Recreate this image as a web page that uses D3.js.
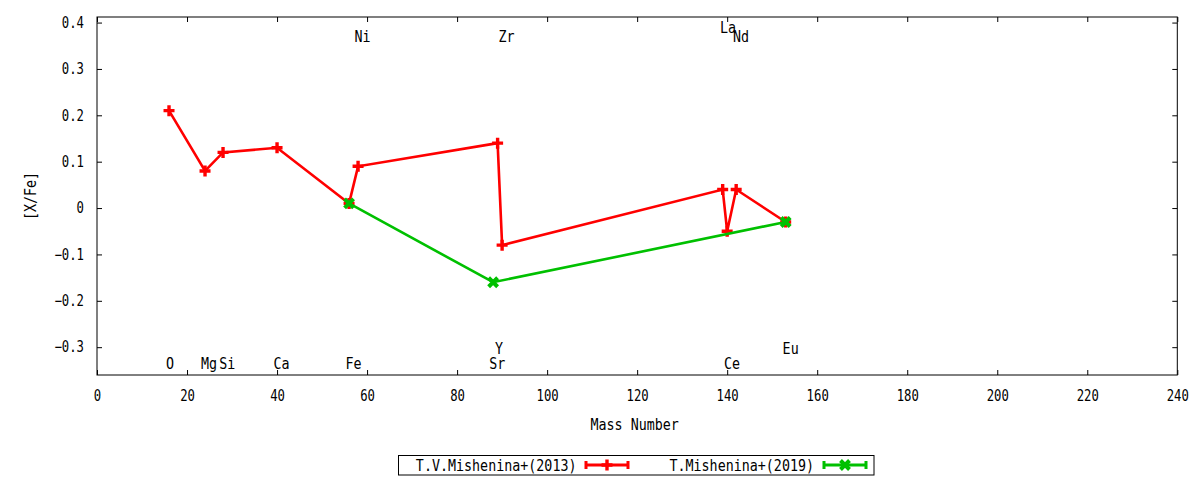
<!DOCTYPE html>
<html><head><meta charset="utf-8">
<script src="https://cdn.jsdelivr.net/npm/d3@7"></script>
<style>
html,body{margin:0;padding:0;background:#fff;}
svg{display:block;}
text{font-family:"DejaVu Sans Mono","Liberation Mono",monospace;fill:#000;}
</style></head>
<body><svg id="c" width="1200" height="480"></svg>
<script>
// ---- data ----
const series2013Name = "T.V.Mishenina+(2013)";
const series2019Name = "T.Mishenina+(2019)";
const mass2013 = [16, 24, 28, 40, 56, 58, 89, 90, 139, 140, 142, 153];
const xfe2013  = [0.21, 0.08, 0.12, 0.13, 0.01, 0.09, 0.14, -0.08, 0.04, -0.05, 0.04, -0.03];
const mass2019 = [56, 88, 153];
const xfe2019  = [0.01, -0.16, -0.03];
const elementNames = ["O", "Mg", "Si", "Ca", "Fe", "Sr", "Y", "Ce", "Eu", "Ni", "Zr", "La", "Nd"];
const elementX     = [16.2, 24.9, 28.95, 41, 57, 88.9, 89.3, 141.1, 154.1, 59, 91, 140.2, 143.1];
const elementY     = [-0.335, -0.335, -0.335, -0.335, -0.335, -0.335, -0.303, -0.335, -0.303, 0.369, 0.369, 0.39, 0.369];
const xTicks = [0, 20, 40, 60, 80, 100, 120, 140, 160, 180, 200, 220, 240];
const yTicks = [-0.3, -0.2, -0.1, 0, 0.1, 0.2, 0.3, 0.4];
const xTitle = "Mass Number";
const yTitle = "[X/Fe]";

// ---- layout ----
const svg = d3.select("#c");
const L = 97, R = 1177.3, T = 17, B = 375;
const x = d3.scaleLinear().domain([0, 240]).range([L, R]);
const y = d3.scaleLinear().domain([-0.36, 0.412]).range([B, T]);
const RED = "#ff0000", GREEN = "#00c000";
const LAB_SIZE = 15, LAB_SX = 0.89;
const TICK_SIZE = 15, TICK_SX = 0.82;

function label(g, px, py, s, anchor, size, sx, rot) {
  return g.append("text")
    .attr("transform", `translate(${px},${py})` + (rot ? ` rotate(${rot})` : "") + ` scale(${sx},1)`)
    .attr("text-anchor", anchor || "middle")
    .attr("dy", "0.36em")
    .style("font-size", size + "px")
    .text(s);
}

// axes (inward ticks, mirrored); labels drawn through the axis, then restyled
const ax = svg.append("g");
const axBottom = ax.append("g").attr("transform", `translate(0,${B})`)
  .call(d3.axisBottom(x).tickValues(xTicks).tickFormat(d3.format("d")).tickSizeInner(-5).tickSizeOuter(0).tickPadding(15));
ax.append("g").attr("transform", `translate(0,${T})`)
  .call(d3.axisTop(x).tickValues(xTicks).tickFormat("").tickSizeInner(-5).tickSizeOuter(0));
const axLeft = ax.append("g").attr("transform", `translate(${L},0)`)
  .call(d3.axisLeft(y).tickValues(yTicks).tickFormat(d => d === 0 ? "0" : d3.format(".1f")(d)).tickSizeInner(-5).tickSizeOuter(0).tickPadding(13));
ax.append("g").attr("transform", `translate(${R},0)`)
  .call(d3.axisRight(y).tickValues(yTicks).tickFormat("").tickSizeInner(-5).tickSizeOuter(0));
ax.selectAll(".domain").remove();
ax.selectAll(".tick line").attr("stroke", "#000").attr("stroke-width", 1);
ax.selectAll("g").attr("font-family", null).attr("font-size", null);
ax.selectAll("text")
  .attr("font-family", "DejaVu Sans Mono, monospace")
  .attr("font-size", TICK_SIZE)
  .style("font-size", TICK_SIZE + "px")
  .attr("fill", "#000");
axBottom.selectAll("text").attr("transform", `scale(${TICK_SX},1)`);
axLeft.selectAll("text").attr("transform", `scale(${TICK_SX},1)`).attr("x", -13 / TICK_SX);

// frame
svg.append("rect").attr("x", L).attr("y", T).attr("width", R - L).attr("height", B - T)
  .attr("fill", "none").attr("stroke", "#000").attr("stroke-width", 1);

// titles
label(svg, 634.7, 424.5, xTitle, "middle", LAB_SIZE, LAB_SX);
label(svg, 31, 196, yTitle, "middle", LAB_SIZE, LAB_SX, -90);

// element labels
const el = svg.append("g");
elementNames.forEach((n, i) => label(el, x(elementX[i]), y(elementY[i]), n, "middle", LAB_SIZE, LAB_SX));

// marker helpers
function plus(g, cx, cy, col) {
  g.append("path").attr("d", `M${cx - 5.5},${cy}H${cx + 5.5}M${cx},${cy - 5.5}V${cy + 5.5}`)
    .attr("stroke", col).attr("stroke-width", 3.4).attr("fill", "none");
}
function cross(g, cx, cy, col) {
  g.append("path").attr("d", `M${cx - 4.5},${cy - 4.5}L${cx + 4.5},${cy + 4.5}M${cx - 4.5},${cy + 4.5}L${cx + 4.5},${cy - 4.5}`)
    .attr("stroke", col).attr("stroke-width", 4).attr("fill", "none");
}

const line = d3.line().x(d => x(d[0])).y(d => y(d[1]));
const d2013 = mass2013.map((m, i) => [m, xfe2013[i]]);
const d2019 = mass2019.map((m, i) => [m, xfe2019[i]]);

const plot = svg.append("g");
plot.append("path").datum(d2013).attr("d", line).attr("fill", "none").attr("stroke", RED).attr("stroke-width", 2.6);
d2013.forEach(d => plus(plot, x(d[0]), y(d[1]), RED));
plot.append("path").datum(d2019).attr("d", line).attr("fill", "none").attr("stroke", GREEN).attr("stroke-width", 2.6);
d2019.forEach(d => cross(plot, x(d[0]), y(d[1]), GREEN));

// legend
const lg = svg.append("g");
lg.append("rect").attr("x", 398.5).attr("y", 455.5).attr("width", 475.5).attr("height", 19.5)
  .attr("fill", "none").attr("stroke", "#000").attr("stroke-width", 1);
label(lg, 576.5, 465.5, series2013Name, "end", LAB_SIZE, LAB_SX);
label(lg, 814, 465.5, series2019Name, "end", LAB_SIZE, LAB_SX);
function sample(x0, x1, cy, col, mk) {
  lg.append("path").attr("d", `M${x0},${cy}H${x1}M${x0},${cy - 4}V${cy + 4}M${x1},${cy - 4}V${cy + 4}`)
    .attr("stroke", col).attr("stroke-width", 3).attr("fill", "none");
  mk(lg, (x0 + x1) / 2, cy, col);
}
sample(586, 628, 465, RED, plus);
sample(824, 866, 465, GREEN, cross);
</script>
</body></html>
